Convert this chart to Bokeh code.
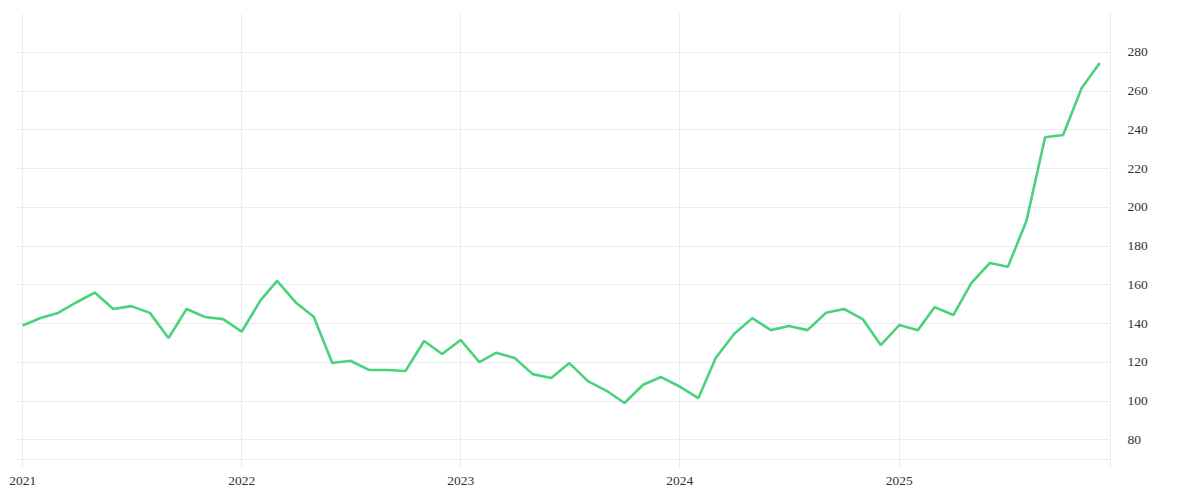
import pandas as pd
from bokeh.plotting import figure
from bokeh.models import FixedTicker, DatetimeTickFormatter, Range1d
from bokeh.embed import file_html
from bokeh.resources import INLINE

months = pd.date_range("2021-01-01", periods=60, freq="MS")
values = [
    139, 143, 145.5, 151, 156, 147.5, 149, 145.5, 132.5, 147.5, 143.4, 142.3,
    135.8, 151.8, 162, 150.9, 143.5, 119.6, 120.8, 116.1, 116, 115.5, 131, 124.3,
    131.5, 120.1, 124.9, 122.2, 113.9, 111.9, 119.6, 110.3, 105.3, 99, 108.4, 112.4,
    107.5, 101.5, 122.2, 134.7, 142.8, 136.6, 138.7, 136.6, 145.6, 147.5, 142.3, 128.9,
    139.2, 136.6, 148.5, 144.4, 160.9, 171.3, 169.3, 193.1, 236.1, 237.3, 261.6, 274.5,
]
year_ticks = pd.to_datetime(["2021-01-01", "2022-01-01", "2023-01-01", "2024-01-01", "2025-01-01"])
y_ticks = [80, 100, 120, 140, 160, 180, 200, 220, 240, 260, 280]
y_grid = [70] + y_ticks

x_start = pd.Timestamp("2020-12-20")
x_end = pd.Timestamp("2025-12-19")

p = figure(width=1192, height=492, output_backend="svg", toolbar_location=None,
           x_axis_type="datetime", y_axis_location="right",
           x_range=Range1d(x_start, x_end), y_range=Range1d(65.2, 300),
           min_border_left=15, min_border_top=13, min_border_right=82, min_border_bottom=24)
p.outline_line_color = None
p.background_fill_color = "white"
p.border_fill_color = "white"

p.line(months, values, line_color="#4ad27c", line_width=2.6)

grid_color = "#ececec"
font = "Liberation Serif"
tick_ms = [t.value // 10**6 for t in year_ticks]

xa = p.xaxis[0]
xa.ticker = FixedTicker(ticks=tick_ms)
xa.formatter = DatetimeTickFormatter(years="%Y", months="%Y", days="%Y")
xa.axis_line_color = None
xa.major_tick_line_color = None
xa.major_tick_out = 0
xa.major_tick_in = 0
xa.minor_tick_line_color = None
xa.major_label_text_font = font
xa.major_label_text_font_size = "13.5px"
xa.major_label_text_color = "#333333"
xa.major_label_standoff = 8

ya = p.yaxis[0]
ya.ticker = FixedTicker(ticks=y_ticks)
ya.axis_line_color = grid_color
ya.major_tick_line_color = None
ya.major_tick_out = 0
ya.major_tick_in = 0
ya.minor_tick_line_color = None
ya.major_label_text_font = font
ya.major_label_text_font_size = "13.5px"
ya.major_label_text_color = "#333333"
ya.major_label_standoff = 17

p.xgrid.ticker = FixedTicker(ticks=tick_ms)
p.ygrid.ticker = FixedTicker(ticks=y_grid)
p.xgrid.grid_line_color = grid_color
p.ygrid.grid_line_color = grid_color

open("out.html", "w").write(file_html(p, INLINE))
